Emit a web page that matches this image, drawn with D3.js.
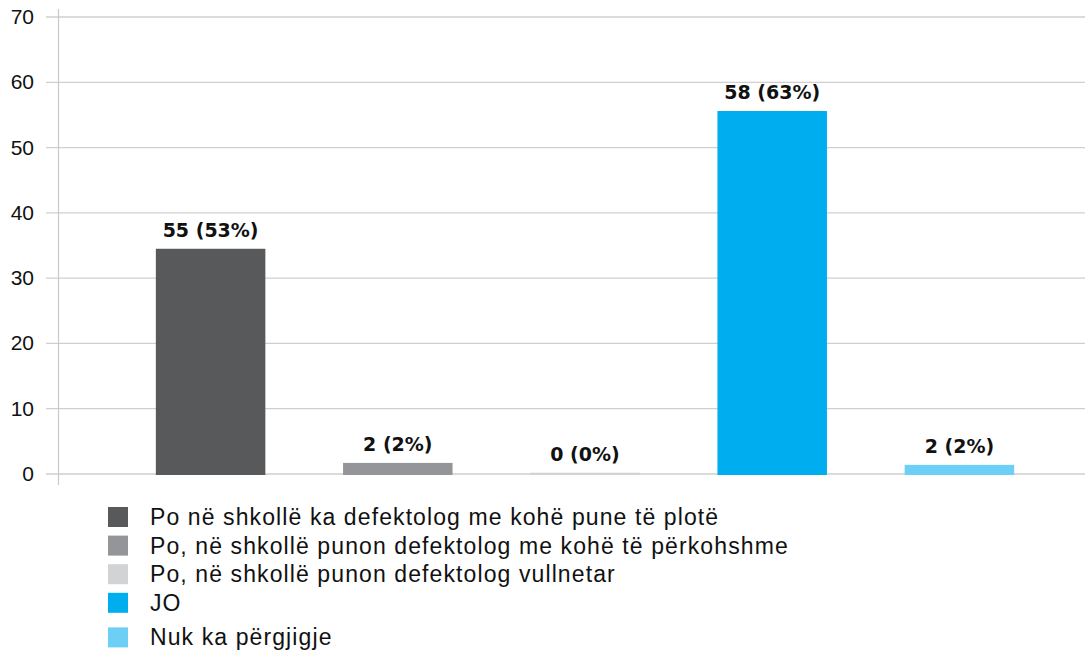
<!DOCTYPE html>
<html>
<head>
<meta charset="utf-8">
<script src="https://cdn.jsdelivr.net/npm/d3@7"></script>
<style>
  html, body { margin: 0; padding: 0; background: #fff; }
  svg { display: block; }
</style>
</head>
<body>
<div id="chart"></div>
<script>
// categories, values (bar heights as drawn) and the printed labels
var categories = [
  "Po në shkollë ka defektolog me kohë pune të plotë",
  "Po, në shkollë punon defektolog me kohë të përkohshme",
  "Po, në shkollë punon defektolog vullnetar",
  "JO",
  "Nuk ka përgjigje"
];
var values = [34.5, 1.7, 0.2, 55.6, 1.4];
var barLabels = ["55 (53%)", "2 (2%)", "0 (0%)", "58 (63%)", "2 (2%)"];
var colors = ["#58595b", "#939598", "#d1d3d4", "#00aeef", "#6dcff6"];
var yTicks = [0, 10, 20, 30, 40, 50, 60, 70];

var width = 1085, height = 651;

var svg = d3.select("#chart").append("svg")
  .attr("width", width)
  .attr("height", height);

var x = d3.scaleBand()
  .domain(categories)
  .range([117, 1053])
  .paddingInner(0.415)
  .paddingOuter(0.2075);

var y = d3.scaleLinear()
  .domain([0, 70])
  .range([474, 17]);

// grid lines
svg.append("g")
  .selectAll("line")
  .data(yTicks)
  .join("line")
  .attr("x1", 46)
  .attr("x2", width)
  .attr("y1", function(d) { return y(d); })
  .attr("y2", function(d) { return y(d); })
  .attr("stroke", "#cfcfcf")
  .attr("stroke-width", 1.3);

// vertical axis line
svg.append("line")
  .attr("x1", 58.5).attr("x2", 58.5)
  .attr("y1", y(70) - 8).attr("y2", y(0) + 11)
  .attr("stroke", "#c8c8c8")
  .attr("stroke-width", 1.2);

// tick labels
svg.append("g")
  .selectAll("text")
  .data(yTicks)
  .join("text")
  .attr("x", 34)
  .attr("y", function(d) { return y(d) + 7; })
  .attr("text-anchor", "end")
  .attr("font-family", "Liberation Sans, Arial, sans-serif")
  .attr("font-size", 21)
  .attr("fill", "#111")
  .text(function(d) { return d; });

// bars
svg.append("g")
  .selectAll("rect")
  .data(values)
  .join("rect")
  .attr("x", function(d, i) { return x(categories[i]); })
  .attr("width", x.bandwidth())
  .attr("y", function(d) { return y(d); })
  .attr("height", function(d) { return y(0) - y(d) + 1; })
  .attr("fill", function(d, i) { return colors[i]; });

// value labels
svg.append("g")
  .selectAll("text")
  .data(values)
  .join("text")
  .attr("x", function(d, i) { return x(categories[i]) + x.bandwidth() / 2; })
  .attr("y", function(d) { return y(d) - 12; })
  .attr("text-anchor", "middle")
  .attr("font-family", "DejaVu Sans, sans-serif")
  .attr("font-weight", "bold")
  .attr("font-size", 19)
  .attr("fill", "#111")
  .text(function(d, i) { return barLabels[i]; });

// legend
var legend = svg.append("g")
  .selectAll("g")
  .data(categories)
  .join("g")
  .attr("transform", function(d, i) {
    return "translate(108," + (507 + i * 28.6 + (i === 4 ? 6 : 0)) + ")";
  });

legend.append("rect")
  .attr("width", 20)
  .attr("height", 20)
  .attr("fill", function(d, i) { return colors[i]; });

legend.append("text")
  .attr("x", 42)
  .attr("y", 18)
  .attr("font-family", "Liberation Sans, Arial, sans-serif")
  .attr("font-size", 23)
  .attr("letter-spacing", 1.1)
  .attr("fill", "#111")
  .text(function(d) { return d; });
</script>
</body>
</html>
